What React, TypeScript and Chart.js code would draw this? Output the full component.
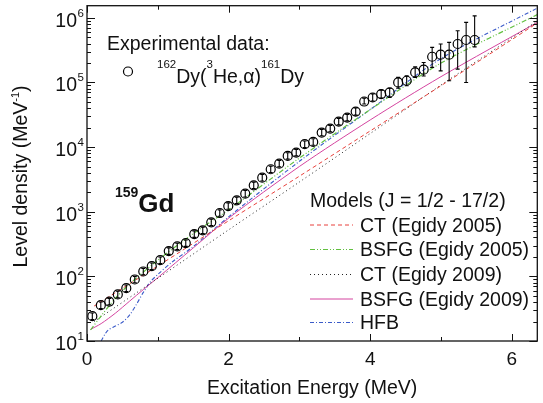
import React, { useEffect, useRef } from "react";
import { Chart, registerables } from "chart.js";
Chart.register(...registerables);

const FONT = '"Liberation Sans", Arial, Helvetica, sans-serif';

// Experimental data: 162Dy(3He,α)161Dy
const energy = [0.075, 0.195, 0.315, 0.435, 0.555, 0.675, 0.795, 0.915, 1.035, 1.155, 1.275, 1.395, 1.515, 1.635, 1.755, 1.875, 1.995, 2.115, 2.235, 2.355, 2.475, 2.595, 2.715, 2.835, 2.955, 3.075, 3.195, 3.315, 3.435, 3.555, 3.675, 3.795, 3.915, 4.035, 4.155, 4.275, 4.395, 4.515, 4.635, 4.755, 4.875, 4.995, 5.115, 5.235, 5.355, 5.475];
const density = [24.2, 35.8, 40.8, 52.5, 65.6, 89.5, 119, 144, 178, 246, 291, 327, 451, 515, 686, 955, 1225, 1503, 1901, 2565, 3365, 4539, 5546, 7311, 8222, 11090, 12020, 16790, 19360, 24830, 28640, 35480, 50700, 58480, 66070, 69980, 100000, 106200, 142900, 157400, 250000, 269200, 269200, 393600, 453900, 453900];
const densityLow = [21.5, 31.9, 36.3, 46.7, 58.4, 79.7, 106, 128, 158, 219, 259, 291, 401, 458, 611, 850, 1090, 1338, 1692, 2283, 2995, 4040, 4936, 6507, 7318, 9870, 10700, 14940, 17230, 22100, 25490, 31200, 46300, 51500, 57500, 58500, 81800, 89000, 120000, 126000, 171000, 151000, 106000, 161000, 100000, 355000];
const densityHigh = [27.1, 40.1, 45.7, 58.8, 73.5, 100, 133, 161, 199, 276, 326, 366, 505, 577, 768, 1070, 1372, 1683, 2129, 2873, 3769, 5084, 6212, 8188, 9209, 12420, 13460, 18800, 21680, 27810, 32080, 40300, 57300, 66500, 76000, 81800, 119700, 127000, 174000, 204000, 349000, 394000, 417000, 631000, 851000, 1072000];

// Models
const ct2005Energy = [0.1, 1, 2, 3, 4, 5, 6.36];
const ct2005 = [34.7, 144.5, 724, 3548, 17780, 89100, 832000];

const bsfg2005Energy = [0.05, 0.2, 0.4, 0.6, 1.0, 1.5, 2, 3, 4, 5, 6.36];
const bsfg2005 = [14.8, 24.5, 45.7, 75.9, 178, 457, 1072, 6761, 38020, 199500, 1122000];

const ct2009Energy = [0.1, 1, 2, 3, 4, 5, 6.36];
const ct2009 = [20.0, 93.3, 525, 2884, 16220, 91200, 891000];

const bsfg2009Energy = [0.05, 0.2, 0.4, 0.6, 0.8, 1.0, 1.5, 2, 3, 4, 5, 6.36];
const bsfg2009 = [15.1, 18.6, 26.9, 41.2, 63.1, 95.5, 275, 794, 5012, 26300, 123000, 851000];

const hfbEnergy = [0.2, 0.25, 0.3, 0.4, 0.5, 0.6, 0.7, 0.8, 0.9, 1.0, 1.2, 1.5, 2, 3, 4, 5, 6.36];
const hfb = [10, 12.6, 14.8, 17.0, 19.5, 25.1, 37.2, 57.5, 83.2, 107, 166, 288, 832, 6026, 38020, 234400, 1413000];

// Axis ticks
const xMajorTicks = [0, 2, 4, 6];
const xMinorTicks = [1, 3, 5];
const xTickLabels = ["0", "2", "4", "6"];
const yDecades = [10, 100, 1000, 10000, 100000, 1000000];
const yExponents = ["1", "2", "3", "4", "5", "6"];
const yMantissas = [2, 3, 4, 5, 6, 7, 8, 9];

const modelNames = ["CT (Egidy 2005)", "BSFG (Egidy 2005)", "CT (Egidy 2009)", "BSFG (Egidy 2009)", "HFB"];
const modelColors = ["#e8413c", "#62c040", "#222222", "#d4449f", "#3b5bc9"];
const modelDashes = [[4, 3], [5, 2, 1, 2, 1, 2], [1, 3], [], [4, 2, 1, 2]];
const modelWidths = [1, 1.2, 1, 1, 1.1];
const modelEnergies = [ct2005Energy, bsfg2005Energy, ct2009Energy, bsfg2009Energy, hfbEnergy];
const modelValues = [ct2005, bsfg2005, ct2009, bsfg2009, hfb];

type Part = { t: string; size: number; bold?: boolean; dy?: number };

function partsWidth(ctx: CanvasRenderingContext2D, parts: Part[]) {
  let w = 0;
  for (const p of parts) {
    ctx.font = `${p.bold ? "bold " : ""}${p.size}px ${FONT}`;
    w += ctx.measureText(p.t).width;
  }
  return w;
}

function drawRich(ctx: CanvasRenderingContext2D, x: number, y: number, parts: Part[]) {
  let cx = x;
  for (const p of parts) {
    ctx.font = `${p.bold ? "bold " : ""}${p.size}px ${FONT}`;
    ctx.fillText(p.t, cx, y + (p.dy || 0));
    cx += ctx.measureText(p.t).width;
  }
}

const decor = {
  id: "decor",
  afterDatasetsDraw(chart: any) {
    const { ctx, chartArea: a, scales } = chart;
    const xs = scales.x;
    const ys = scales.y;
    ctx.save();

    // error bars
    ctx.strokeStyle = "#000";
    ctx.lineWidth = 1.1;
    ctx.setLineDash([]);
    ctx.beginPath();
    ctx.rect(a.left, a.top, a.right - a.left, a.bottom - a.top);
    ctx.save();
    ctx.clip();
    energy.forEach((e, i) => {
      const px = xs.getPixelForValue(e);
      const y1 = ys.getPixelForValue(densityLow[i]);
      const y2 = ys.getPixelForValue(densityHigh[i]);
      ctx.beginPath();
      ctx.moveTo(px, y1);
      ctx.lineTo(px, y2);
      ctx.moveTo(px - 2, y1);
      ctx.lineTo(px + 2, y1);
      ctx.moveTo(px - 2, y2);
      ctx.lineTo(px + 2, y2);
      ctx.stroke();
    });
    ctx.restore();

    // frame
    ctx.lineWidth = 1.3;
    ctx.strokeStyle = "#111";
    ctx.strokeRect(a.left, a.top, a.right - a.left, a.bottom - a.top);

    // ticks
    ctx.lineWidth = 1;
    ctx.beginPath();
    const xt = (v: number, len: number) => {
      const px = Math.round(xs.getPixelForValue(v)) + 0.5;
      ctx.moveTo(px, a.bottom);
      ctx.lineTo(px, a.bottom - len);
      ctx.moveTo(px, a.top);
      ctx.lineTo(px, a.top + len);
    };
    xMajorTicks.forEach((v) => xt(v, 7));
    xMinorTicks.forEach((v) => xt(v, 4));
    const yt = (v: number, len: number) => {
      const py = Math.round(ys.getPixelForValue(v)) + 0.5;
      if (py < a.top || py > a.bottom + 1) return;
      ctx.moveTo(a.left, py);
      ctx.lineTo(a.left + len, py);
      ctx.moveTo(a.right, py);
      ctx.lineTo(a.right - len, py);
    };
    yDecades.forEach((d) => {
      yt(d, 8);
      yMantissas.forEach((m) => yt(m * d, 4));
    });
    ctx.stroke();

    ctx.fillStyle = "#111";
    // x tick labels
    ctx.textAlign = "center";
    ctx.textBaseline = "alphabetic";
    ctx.font = `19px ${FONT}`;
    xMajorTicks.forEach((v, i) => {
      ctx.fillText(xTickLabels[i], xs.getPixelForValue(v), 364.5);
    });
    // y tick labels
    yDecades.forEach((d, i) => {
      const py = ys.getPixelForValue(d);
      ctx.textAlign = "right";
      ctx.font = `19.5px ${FONT}`;
      ctx.fillText("10", a.left - 10, py + 9);
      ctx.textAlign = "left";
      ctx.font = `11.5px ${FONT}`;
      ctx.fillText(yExponents[i], a.left - 9.5, py - 1);
    });

    // axis titles
    ctx.textAlign = "center";
    ctx.font = `19.5px ${FONT}`;
    ctx.fillText("Excitation Energy (MeV)", (a.left + a.right) / 2, 394);

    const yParts: Part[] = [
      { t: "Level density (MeV", size: 19.5 },
      { t: "-1", size: 11, dy: -8 },
      { t: ")", size: 19.5 },
    ];
    ctx.save();
    ctx.translate(27, 176.5);
    ctx.rotate(-Math.PI / 2);
    ctx.textAlign = "left";
    const yw = partsWidth(ctx, yParts);
    drawRich(ctx, -yw / 2, 0, yParts);
    ctx.restore();

    // experimental legend
    ctx.textAlign = "left";
    ctx.font = `19.5px ${FONT}`;
    ctx.fillText("Experimental data:", 107, 49.5);
    ctx.beginPath();
    ctx.lineWidth = 1.2;
    ctx.strokeStyle = "#000";
    ctx.arc(128, 71.5, 4.5, 0, Math.PI * 2);
    ctx.stroke();
    drawRich(ctx, 157, 83, [
      { t: "162", size: 11.5, dy: -15 },
      { t: "Dy(", size: 19.5 },
      { t: "3", size: 11.5, dy: -15 },
      { t: "He,α)", size: 19.5 },
      { t: "161", size: 11.5, dy: -15 },
      { t: "Dy", size: 19.5 },
    ]);

    // nucleus label
    drawRich(ctx, 115, 211.5, [
      { t: "159", size: 14, bold: true, dy: -15 },
      { t: "Gd", size: 26, bold: true },
    ]);

    // models legend
    ctx.font = `19.5px ${FONT}`;
    ctx.fillText("Models (J = 1/2 - 17/2)", 310, 206.5);
    const baselines = [231.5, 256, 281, 305.5, 329];
    modelNames.forEach((name, i) => {
      const by = baselines[i];
      ctx.beginPath();
      ctx.setLineDash(modelDashes[i]);
      ctx.strokeStyle = modelColors[i];
      ctx.lineWidth = modelWidths[i];
      ctx.moveTo(310, by - 6.5);
      ctx.lineTo(353, by - 6.5);
      ctx.stroke();
      ctx.setLineDash([]);
      ctx.fillStyle = "#111";
      ctx.font = `19.5px ${FONT}`;
      ctx.fillText(name, 360, by);
    });

    ctx.restore();
  },
};

export default function App() {
  const ref = useRef<HTMLCanvasElement | null>(null);
  useEffect(() => {
    if (!ref.current) return;
    const datasets: any[] = [
      {
        label: "data",
        data: energy.map((e, i) => ({ x: e, y: density[i] })),
        showLine: false,
        pointRadius: 4.5,
        pointBorderWidth: 1.2,
        pointBorderColor: "#000",
        pointBackgroundColor: "rgba(0,0,0,0)",
        pointStyle: "circle",
      },
    ];
    modelNames.forEach((name, i) => {
      datasets.push({
        label: name,
        data: modelEnergies[i].map((e, j) => ({ x: e, y: modelValues[i][j] })),
        showLine: true,
        borderColor: modelColors[i],
        borderWidth: modelWidths[i],
        borderDash: modelDashes[i],
        pointRadius: 0,
        tension: 0.3,
        fill: false,
      });
    });
    const chart = new Chart(ref.current, {
      type: "scatter",
      data: { datasets },
      options: {
        animation: false,
        responsive: true,
        maintainAspectRatio: false,
        devicePixelRatio: 1,
        events: [],
        layout: { padding: { top: 5, right: 0, left: 0, bottom: 0 } },
        plugins: { legend: { display: false }, tooltip: { enabled: false } },
        scales: {
          x: {
            type: "linear",
            min: 0,
            max: 6.36,
            grid: { display: false },
            border: { display: false },
            ticks: { display: false },
            afterFit: (s: any) => {
              s.height = 62;
            },
          },
          y: {
            type: "logarithmic",
            min: 10,
            max: 1.54e6,
            grid: { display: false },
            border: { display: false },
            ticks: { display: false },
            afterFit: (s: any) => {
              s.width = 87;
            },
          },
        },
      } as any,
      plugins: [decor],
    });
    return () => chart.destroy();
  }, []);
  return (
    <div style={{ position: "fixed", left: 0, top: 0, width: 543, height: 403, background: "#fff" }}>
      <canvas ref={ref} />
    </div>
  );
}
